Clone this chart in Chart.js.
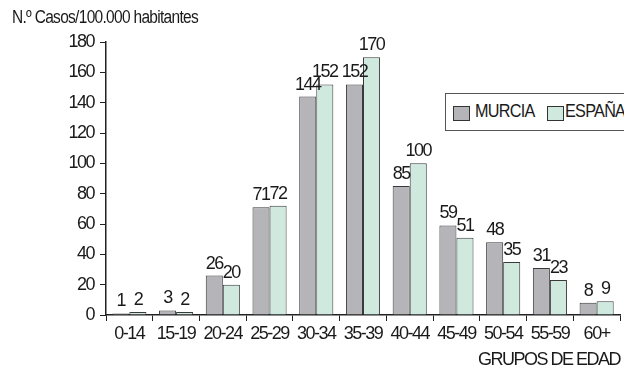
<!DOCTYPE html>
<html>
<head>
<meta charset="utf-8">
<script src="https://cdn.jsdelivr.net/npm/chart.js@4.4.1/dist/chart.umd.min.js"></script>
<style>
  html, body { margin: 0; padding: 0; background: #fff; overflow: hidden; }
  #wrap { position: relative; width: 624px; height: 371px; }
  .txt { position: absolute; font-family: 'Liberation Sans', Arial, sans-serif; color: #1a1a1a; letter-spacing: -0.8px; white-space: nowrap; font-size: 18px; transform: scaleX(0.86); transform-origin: left top; }
  #titulo { left: 12px; top: 7px; }
  #leyenda { position: absolute; left: 445px; top: 93px; width: 200px; height: 36px; border: 1px solid #555; background: #fff; }
  #leyenda .txt { transform: scaleX(0.9); }
  .sw { position: absolute; top: 12px; width: 15px; height: 13px; border: 1px solid #333; }
</style>
</head>
<body>
<div id="wrap">
  <canvas id="grafico" width="624" height="371"></canvas>
  <div id="titulo" class="txt">N.º Casos/100.000 habitantes</div>
  <div id="leyenda">
    <div class="sw" style="left:7px; background:#b4b4b9;"></div>
    <div class="txt" style="left:29px; top:7px;">MURCIA</div>
    <div class="sw" style="left:101px; background:#cfe9df;"></div>
    <div class="txt" style="left:119px; top:7px;">ESPAÑA</div>
  </div>
</div>
<script>
// Grupos de edad y tasas por 100.000 habitantes
const gruposEdad = ['0-14', '15-19', '20-24', '25-29', '30-34', '35-39', '40-44', '45-49', '50-54', '55-59', '60+'];
const tasaMurcia = [1, 3, 26, 71, 144, 152, 85, 59, 48, 31, 8];
const tasaEspana = [2, 2, 20, 72, 152, 170, 100, 51, 35, 23, 9];
const ticksY = [0, 20, 40, 60, 80, 100, 120, 140, 160, 180];

const fuente = "'Liberation Sans', Arial, sans-serif";
const espaciado = '-1.5px';

// letra más estrecha para todos los textos del canvas
const letraEstrecha = {
  id: 'letraEstrecha',
  beforeDraw(chart) { chart.ctx.letterSpacing = espaciado; }
};

// valores encima de cada barra
const etiquetasValor = {
  id: 'etiquetasValor',
  afterDatasetsDraw(chart) {
    const ctx = chart.ctx;
    ctx.save();
    ctx.letterSpacing = espaciado;
    ctx.font = '18px ' + fuente;
    ctx.fillStyle = '#1a1a1a';
    ctx.textAlign = 'center';
    ctx.textBaseline = 'bottom';
    chart.data.datasets.forEach((ds, i) => {
      chart.getDatasetMeta(i).data.forEach((bar, j) => {
        ctx.fillText(String(ds.data[j]), bar.x, bar.y - 3);
      });
    });
    ctx.restore();
  }
};

new Chart(document.getElementById('grafico'), {
  type: 'bar',
  data: {
    labels: gruposEdad,
    datasets: [
      { label: 'MURCIA', data: tasaMurcia, backgroundColor: '#b4b4b9', borderColor: '#3a3a3a', borderWidth: 1 },
      { label: 'ESPAÑA', data: tasaEspana, backgroundColor: '#cfe9df', borderColor: '#3a3a3a', borderWidth: 1 }
    ]
  },
  options: {
    responsive: false,
    animation: false,
    devicePixelRatio: 1,
    layout: { padding: { top: 42, right: 4, left: 0, bottom: 0 } },
    datasets: { bar: { categoryPercentage: 0.73, barPercentage: 1.0 } },
    plugins: { legend: { display: false }, tooltip: { enabled: false } },
    scales: {
      x: {
        grid: { drawOnChartArea: false, drawTicks: true, tickLength: 6, color: '#222', offset: true },
        border: { display: true, color: '#222', width: 1.5 },
        ticks: { color: '#1a1a1a', font: { family: fuente, size: 18 }, padding: 2, maxRotation: 0, autoSkip: false },
        title: { display: true, text: 'GRUPOS DE EDAD', align: 'end', color: '#1a1a1a', font: { family: fuente, size: 18 }, padding: { top: 5, bottom: 0 } },
        afterFit(scale) { scale.height = 56; }
      },
      y: {
        min: 0,
        max: 180,
        afterBuildTicks(scale) { scale.ticks = ticksY.map(v => ({ value: v })); },
        grid: { drawOnChartArea: false, drawTicks: true, tickLength: 6, color: '#222' },
        border: { display: true, color: '#222', width: 1.5 },
        ticks: { color: '#1a1a1a', font: { family: fuente, size: 18 }, padding: 6 },
        afterFit(scale) { scale.width = 106; }
      }
    }
  },
  plugins: [letraEstrecha, etiquetasValor]
});
</script>
</body>
</html>
